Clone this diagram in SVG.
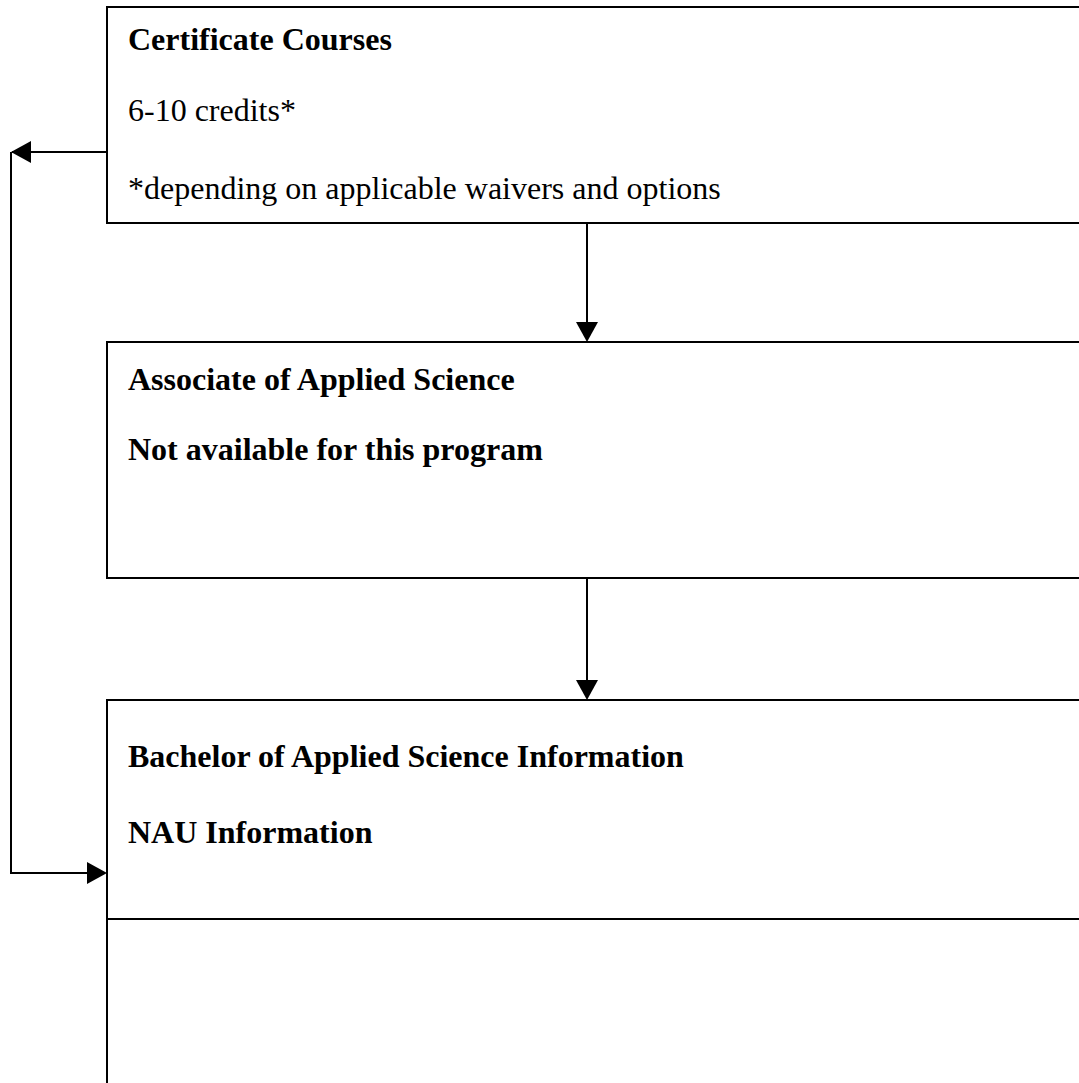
<svg xmlns="http://www.w3.org/2000/svg" width="1079" height="1083" viewBox="0 0 1079 1083">
<defs>
<style>
.box{fill:none;stroke:#000;stroke-width:2}
.ln{fill:none;stroke:#000;stroke-width:2}
.t{font-family:"Liberation Serif","Times New Roman",serif;font-size:32px;fill:#000}
.b{font-weight:bold}
</style>
</defs>
<rect width="1079" height="1083" fill="#fff"/>
<g id="connectors">
<path class="ln" d="M107,152 H12" />
<path d="M11,152 L31,141 L31,163 z" fill="#000"/>
<path class="ln" d="M11,152 V873 H90" />
<path d="M107,873 L87,862 L87,884 z" fill="#000"/>
<path class="ln" d="M587,223 V322" />
<path d="M587,342 L576,322 L598,322 z" fill="#000"/>
<path class="ln" d="M587,578 V680" />
<path d="M587,700 L576,680 L598,680 z" fill="#000"/>
</g>
<g id="node-certificate">
<path class="box" d="M1080,7 H107 V223 H1080"/>
<text class="t b" x="128" y="50">Certificate Courses</text>
<text class="t" x="128" y="121">6-10 credits*</text>
<text class="t" x="128" y="199">*depending on applicable waivers and options</text>
</g>
<g id="node-associate">
<path class="box" d="M1080,342 H107 V578 H1080"/>
<text class="t b" x="128" y="390">Associate of Applied Science</text>
<text class="t b" x="128" y="460">Not available for this program</text>
</g>
<g id="node-bachelor">
<path class="box" d="M1080,700 H107 V1084"/>
<path class="box" d="M107,919 H1080"/>
<text class="t b" x="128" y="767">Bachelor of Applied Science Information</text>
<text class="t b" x="128" y="843">NAU Information</text>
</g>
</svg>
